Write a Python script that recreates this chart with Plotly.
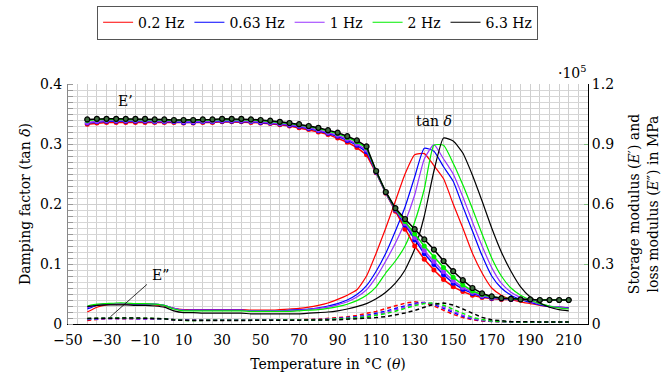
import plotly.graph_objects as go

# ---------------- data ----------------
temperature = [-40, -35, -30, -25, -20, -15, -10, -5, 0, 5, 10, 15, 20, 25, 30, 35, 40, 45, 50, 55,
               60, 65, 70, 75, 80, 85, 90, 95, 100, 105, 110, 115, 120, 125, 130, 135, 140, 145, 150,
               155, 160, 165, 170, 175, 180, 185, 190, 195, 200, 205, 210]

freq_labels = ["0.2 Hz", "0.63 Hz", "1 Hz", "2 Hz", "6.3 Hz"]
colors = ["#ff0000", "#0000ff", "#9933ff", "#00ee00", "#000000"]

# damping factor tan(delta), left axis
tan_02 = [.020, .028, .032, .033, .033, .033, .033, .032, .030, .026, .024, .024, .024, .024, .024, .024, .024,
          .023, .023, .023, .024, .025, .026, .028, .031, .035, .041, .048, .057, .080, .118, .160, .205, .250,
          .282, .284, .264, .242, .200, .160, .118, .085, .060, .048, .041, .037, .034, .031, .029, .028, .027]
tan_063 = [.025, .031, .033, .034, .034, .033, .033, .033, .031, .026, .023, .023, .023, .023, .023, .023, .023,
           .022, .022, .022, .022, .023, .024, .025, .027, .030, .034, .040, .049, .064, .088, .118, .155, .195,
           .245, .293, .288, .262, .238, .196, .155, .114, .080, .060, .048, .041, .036, .032, .029, .028, .027]
tan_1 = [.027, .032, .034, .034, .034, .034, .033, .033, .031, .026, .023, .023, .023, .023, .023, .023, .023,
         .022, .022, .022, .022, .022, .023, .024, .026, .028, .032, .037, .045, .057, .078, .105, .135, .170,
         .215, .275, .299, .275, .250, .212, .170, .130, .094, .068, .053, .044, .038, .033, .030, .028, .026]
tan_2 = [.030, .033, .034, .035, .035, .034, .034, .033, .031, .025, .022, .022, .022, .022, .022, .022, .022,
         .021, .021, .021, .021, .021, .022, .023, .024, .026, .029, .033, .039, .048, .062, .085, .105, .130,
         .170, .225, .298, .298, .268, .232, .192, .150, .110, .080, .060, .048, .040, .034, .030, .027, .025]
tan_63 = [.029, .031, .032, .032, .032, .031, .031, .030, .028, .022, .019, .019, .018, .018, .018, .018, .018,
          .017, .017, .017, .017, .017, .017, .018, .019, .020, .022, .025, .029, .034, .042, .053, .068, .090,
          .125, .180, .255, .310, .305, .285, .248, .205, .160, .120, .088, .062, .045, .035, .028, .024, .022]

# storage modulus E' in 1e5 MPa, right axis
Es_02 = [0.999, 1.005, 1.008, 1.008, 1.008, 1.008, 1.008, 1.008, 1.008, 1.008, 1.005, 1.005, 1.008, 1.008,
         1.011, 1.011, 1.011, 1.008, 1.005, 1.002, 0.996, 0.990, 0.981, 0.972, 0.960, 0.948, 0.930, 0.909,
         0.882, 0.846, 0.756, 0.654, 0.564, 0.474, 0.390, 0.324, 0.270, 0.222, 0.186, 0.162, 0.144, 0.132,
         0.126, 0.123, 0.123, 0.120, 0.120, 0.120, 0.120, 0.120, 0.120]
Es_063 = [1.005, 1.011, 1.014, 1.014, 1.014, 1.014, 1.014, 1.011, 1.011, 1.011, 1.008, 1.008, 1.011, 1.011,
          1.014, 1.014, 1.014, 1.011, 1.008, 1.005, 1.000, 0.994, 0.987, 0.978, 0.966, 0.954, 0.939, 0.918,
          0.894, 0.861, 0.759, 0.656, 0.570, 0.495, 0.420, 0.351, 0.297, 0.246, 0.204, 0.174, 0.153, 0.138,
          0.129, 0.126, 0.123, 0.123, 0.120, 0.120, 0.120, 0.120, 0.120]
Es_1 = [1.008, 1.014, 1.017, 1.017, 1.017, 1.017, 1.017, 1.014, 1.014, 1.014, 1.011, 1.011, 1.014, 1.014,
        1.017, 1.017, 1.017, 1.014, 1.011, 1.008, 1.003, 0.997, 0.990, 0.981, 0.970, 0.958, 0.944, 0.924,
        0.900, 0.870, 0.761, 0.657, 0.573, 0.503, 0.432, 0.366, 0.312, 0.261, 0.216, 0.183, 0.159, 0.141,
        0.132, 0.126, 0.123, 0.123, 0.120, 0.120, 0.120, 0.120, 0.120]
Es_2 = [1.017, 1.023, 1.023, 1.023, 1.023, 1.023, 1.023, 1.020, 1.020, 1.017, 1.017, 1.017, 1.020, 1.020,
        1.023, 1.023, 1.023, 1.020, 1.017, 1.014, 1.008, 1.002, 0.996, 0.987, 0.977, 0.965, 0.952, 0.933,
        0.911, 0.881, 0.763, 0.659, 0.576, 0.512, 0.450, 0.390, 0.336, 0.282, 0.234, 0.195, 0.165, 0.147,
        0.135, 0.129, 0.126, 0.123, 0.123, 0.120, 0.120, 0.120, 0.120]
Es_63 = [1.023, 1.026, 1.026, 1.026, 1.026, 1.026, 1.026, 1.023, 1.023, 1.020, 1.020, 1.020, 1.023, 1.023,
         1.026, 1.026, 1.026, 1.023, 1.020, 1.017, 1.011, 1.005, 0.999, 0.990, 0.981, 0.969, 0.957, 0.939,
         0.918, 0.888, 0.765, 0.660, 0.579, 0.525, 0.474, 0.423, 0.372, 0.315, 0.264, 0.219, 0.180, 0.153,
         0.138, 0.129, 0.126, 0.123, 0.123, 0.120, 0.120, 0.120, 0.120]

# loss modulus E'' in 1e5 MPa, right axis
El_02 = [0.018, 0.024, 0.027, 0.027, 0.027, 0.027, 0.027, 0.026, 0.025, 0.022, 0.020, 0.020, 0.020, 0.020,
         0.020, 0.020, 0.020, 0.020, 0.020, 0.020, 0.020, 0.020, 0.021, 0.022, 0.024, 0.027, 0.031, 0.036,
         0.043, 0.052, 0.063, 0.077, 0.092, 0.104, 0.111, 0.106, 0.090, 0.068, 0.048, 0.032, 0.021, 0.015,
         0.012, 0.011, 0.010, 0.010, 0.010, 0.010, 0.010, 0.010, 0.010]
El_063 = [0.022, 0.026, 0.028, 0.028, 0.028, 0.028, 0.027, 0.027, 0.025, 0.022, 0.019, 0.019, 0.019, 0.019,
          0.019, 0.019, 0.019, 0.019, 0.019, 0.019, 0.019, 0.019, 0.020, 0.021, 0.022, 0.024, 0.027, 0.031,
          0.036, 0.043, 0.052, 0.064, 0.078, 0.092, 0.103, 0.107, 0.098, 0.078, 0.057, 0.038, 0.025, 0.017,
          0.013, 0.011, 0.010, 0.010, 0.010, 0.010, 0.010, 0.010, 0.010]
El_1 = [0.024, 0.027, 0.028, 0.028, 0.028, 0.028, 0.028, 0.027, 0.025, 0.021, 0.019, 0.019, 0.019, 0.019,
        0.019, 0.019, 0.019, 0.019, 0.019, 0.019, 0.019, 0.019, 0.019, 0.020, 0.021, 0.023, 0.025, 0.029,
        0.033, 0.039, 0.047, 0.058, 0.071, 0.085, 0.098, 0.106, 0.102, 0.085, 0.064, 0.043, 0.028, 0.019,
        0.014, 0.011, 0.010, 0.010, 0.010, 0.010, 0.010, 0.010, 0.010]
El_2 = [0.027, 0.029, 0.030, 0.030, 0.030, 0.030, 0.029, 0.028, 0.026, 0.021, 0.018, 0.018, 0.018, 0.018,
        0.018, 0.018, 0.018, 0.018, 0.018, 0.018, 0.018, 0.018, 0.018, 0.019, 0.020, 0.022, 0.024, 0.027,
        0.031, 0.036, 0.043, 0.052, 0.064, 0.078, 0.092, 0.102, 0.105, 0.094, 0.073, 0.051, 0.033, 0.022,
        0.015, 0.012, 0.010, 0.010, 0.010, 0.010, 0.010, 0.010, 0.010]
El_63 = [0.028, 0.029, 0.030, 0.030, 0.030, 0.030, 0.029, 0.028, 0.026, 0.020, 0.017, 0.017, 0.017, 0.017,
         0.017, 0.017, 0.017, 0.017, 0.017, 0.017, 0.017, 0.017, 0.017, 0.018, 0.019, 0.020, 0.021, 0.023,
         0.025, 0.028, 0.032, 0.037, 0.045, 0.055, 0.068, 0.083, 0.099, 0.105, 0.095, 0.075, 0.052, 0.033,
         0.021, 0.015, 0.012, 0.011, 0.010, 0.010, 0.010, 0.010, 0.010]

tan_delta = [tan_02, tan_063, tan_1, tan_2, tan_63]
storage = [Es_02, Es_063, Es_1, Es_2, Es_63]
loss = [El_02, El_063, El_1, El_2, El_63]

left_ticks = [0, 0.1, 0.2, 0.3, 0.4]
left_ticktext = ["0", "0.1", "0.2", "0.3", "0.4"]
right_ticks = [0, 0.3, 0.6, 0.9, 1.2]
right_ticktext = ["0", "0.3", "0.6", "0.9", "1.2"]
x_ticks = [-50, -30, -10, 10, 30, 50, 70, 90, 110, 130, 150, 170, 190, 210]
x_ticktext = ["\u221250", "\u221230", "\u221210", "10", "30", "50", "70", "90", "110", "130", "150",
              "170", "190", "210"]

FONT = "DejaVu Serif"
FS = 14

fig = go.Figure()

# E'' dashed (right axis)
for lbl, col, ys in zip(freq_labels, colors, loss):
    fig.add_trace(go.Scatter(x=temperature, y=ys, yaxis="y2", mode="lines", showlegend=False,
                             line=dict(color=col, width=1.5, dash="4px,3px")))

# tan delta thin solid (left axis) -> carries legend
for lbl, col, ys in zip(freq_labels, colors, tan_delta):
    fig.add_trace(go.Scatter(x=temperature, y=ys, name=lbl, mode="lines",
                             line=dict(color=col, width=1.2, shape="spline", smoothing=0.5)))

# E' with markers (right axis)
for lbl, col, ys in zip(freq_labels, colors, storage):
    mk = dict(color=col, size=5, symbol="circle")
    if col == "#000000":
        mk = dict(color="#3d6b3d", size=5, symbol="circle", line=dict(color="#000000", width=1.2))
    fig.add_trace(go.Scatter(x=temperature, y=ys, yaxis="y2", mode="lines+markers", showlegend=False,
                             line=dict(color=col, width=1.5), marker=mk))

fig.update_layout(
    width=667, height=376,
    margin=dict(l=68, r=79, t=84, b=52, autoexpand=False),
    paper_bgcolor="white", plot_bgcolor="white",
    font=dict(family=FONT, size=FS, color="#000"),
    showlegend=True,
    legend=dict(orientation="h", x=0.48, xanchor="center", yref="container", y=0.985, yanchor="top",
                bordercolor="#555", borderwidth=1, font=dict(size=FS, family=FONT),
                itemwidth=30, tracegroupgap=0, bgcolor="white"),
    xaxis=dict(range=[-50, 220], tickvals=x_ticks, ticktext=x_ticktext, showgrid=True,
               gridcolor="#cfcfcf", gridwidth=1, showline=True, linecolor="#000", linewidth=1,
               zeroline=False, ticks="", tickfont=dict(size=FS), automargin=False,
               ticklabelstandoff=3,
               minor=dict(dtick=5, tick0=-50, showgrid=True, gridcolor="#cfcfcf", gridwidth=1),
               title=dict(text="Temperature in \u00b0C (<i>\u03b8</i>)", font=dict(size=FS), standoff=12)),
    yaxis=dict(range=[0, 0.4], tickvals=left_ticks, ticktext=left_ticktext, showgrid=True,
               gridcolor="#cfcfcf", showline=True, linecolor="#888", zeroline=False, ticks="",
               tickfont=dict(size=FS), automargin=False, ticklabelstandoff=2,
               minor=dict(dtick=0.01, tick0=0, showgrid=True, gridcolor="#d6d6d6", ticks="inside",
                          ticklen=5, tickcolor="#999"),
               title=dict(text="Damping factor (tan <i>\u03b4</i>)", font=dict(size=FS), standoff=6)),
    yaxis2=dict(range=[0, 1.2], overlaying="y", side="right", tickvals=right_ticks,
                ticktext=right_ticktext, showgrid=False, showline=True, linecolor="#000",
                zeroline=False, ticks="inside", ticklen=4, tickcolor="#7fbf7f",
                tickfont=dict(size=FS), automargin=False,
                title=dict(text="Storage modulus (<i>E</i>\u2032) and<br>loss modulus (<i>E</i>\u2033) in MPa",
                           font=dict(size=FS), standoff=16)),
    annotations=[
        dict(xref="paper", yref="paper", x=0.97, y=1.0, xanchor="center", yanchor="bottom",
             text="\u00b710<sup>5</sup>", showarrow=False, font=dict(size=FS), yshift=1),
        dict(x=-20, y=0.372, text="E\u2019", showarrow=False, font=dict(size=FS)),
        dict(x=140, y=0.338, text="tan <i>\u03b4</i>", showarrow=False, font=dict(size=FS)),
        dict(x=-2, y=0.081, text="E\u201d", showarrow=False, font=dict(size=FS)),
    ],
    shapes=[dict(type="line", xref="x", yref="y", x0=-28, y0=0.012, x1=-9, y1=0.066,
                 line=dict(color="#000", width=0.8))],
)

fig.write_html("out.html", config={"displayModeBar": False},
               post_script="document.body.style.margin='0';document.body.style.padding='0';")
